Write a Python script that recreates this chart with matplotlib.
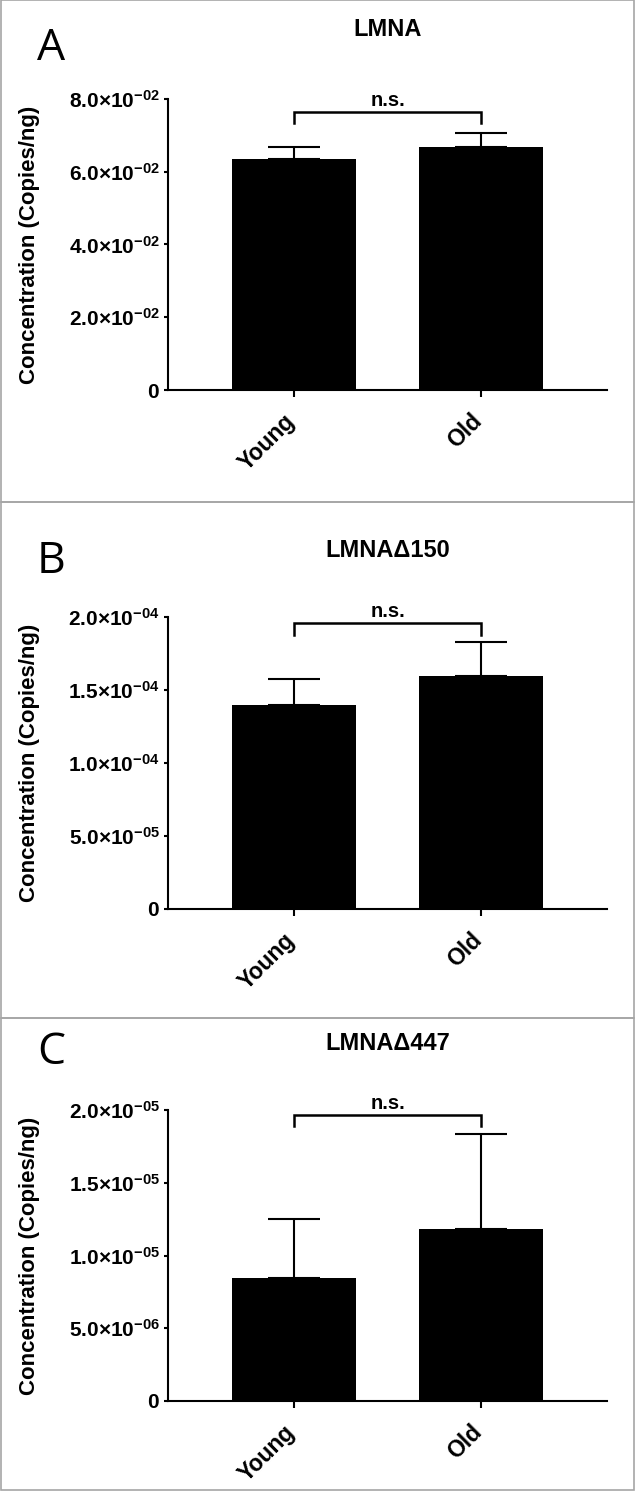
import matplotlib
matplotlib.use("Agg")
import matplotlib.pyplot as plt
from matplotlib.patches import Rectangle

plt.rcParams['mathtext.fontset'] = 'custom'
plt.rcParams['mathtext.rm'] = 'Liberation Sans'
plt.rcParams['mathtext.bf'] = 'Liberation Sans:bold'
plt.rcParams['font.family'] = ['Liberation Sans', 'DejaVu Sans']

# ---------------- data ----------------
groups = ['Young', 'Old']
panel_letters = ['A', 'B', 'C']
panel_titles = ['LMNA', 'LMNA\u0394150', 'LMNA\u0394447']

lmna_mean = [0.0634, 0.0667]
lmna_err = [0.0034, 0.0039]
d150_mean = [1.396e-4, 1.593e-4]
d150_err = [0.176e-4, 0.233e-4]
d447_mean = [8.42e-6, 1.183e-5]
d447_err = [4.06e-6, 6.50e-6]

lmna_ticks = [0, 0.02, 0.04, 0.06, 0.08]
lmna_ticklabels = ['0', '2.0\u00d710^{-02}', '4.0\u00d710^{-02}', '6.0\u00d710^{-02}', '8.0\u00d710^{-02}']
d150_ticks = [0, 5e-5, 1e-4, 1.5e-4, 2e-4]
d150_ticklabels = ['0', '5.0\u00d710^{-05}', '1.0\u00d710^{-04}', '1.5\u00d710^{-04}', '2.0\u00d710^{-04}']
d447_ticks = [0, 5e-6, 1e-5, 1.5e-5, 2e-5]
d447_ticklabels = ['0', '5.0\u00d710^{-06}', '1.0\u00d710^{-05}', '1.5\u00d710^{-05}', '2.0\u00d710^{-05}']

bracket_low = [0.0733, 1.88e-4, 1.89e-5]
bracket_top = [0.0763, 1.96e-4, 1.964e-5]
sig_label = 'n.s.'
ylabel = 'Concentration (Copies/ng)'

means = [lmna_mean, d150_mean, d447_mean]
errs = [lmna_err, d150_err, d447_err]
ticks = [lmna_ticks, d150_ticks, d447_ticks]
ticklabels = [lmna_ticklabels, d150_ticklabels, d447_ticklabels]

# ---------------- layout ----------------
W, H = 635, 1491
fig = plt.figure(figsize=(W / 100, H / 100), dpi=100)

def fx(px):
    return px / W

def fy(py):
    return 1 - py / H

axis_left, axis_right = 168, 607
axis_tops = [99, 617, 1110]
axis_bottoms = [390, 909, 1401]
panel_bounds = [(0, 502), (502, 1018), (1018, 1490)]
title_y = [30, 551, 1043]
letter_y = [49, 562, 1053]

for (t0, t1) in panel_bounds:
    fig.patches.append(Rectangle((fx(1), fy(t1)), fx(W - 2), (t1 - t0) / H,
                                 transform=fig.transFigure, fill=False,
                                 edgecolor='#a6a6a6', linewidth=1.2))

bold = dict(family='Liberation Sans', fontweight='bold')

for i in range(3):
    ax = fig.add_axes([fx(axis_left), fy(axis_bottoms[i]),
                       fx(axis_right - axis_left), (axis_bottoms[i] - axis_tops[i]) / H])
    x = list(range(len(groups)))
    ax.bar(x, means[i], width=0.663, color='black', zorder=2)
    ax.errorbar(x, means[i], yerr=[[0, 0], errs[i]], fmt='none', ecolor='black',
                elinewidth=1.5, capsize=19, capthick=1.5, zorder=1)
    ax.set_xlim(-0.674, 1.674)
    ax.set_ylim(0, ticks[i][-1])
    ax.set_yticks(ticks[i])
    ax.set_yticklabels([r'$\mathbf{%s}$' % s for s in ticklabels[i]], fontsize=15)
    ax.set_xticks(x)
    ax.set_xticklabels([])
    for xi, g in zip(x, groups):
        ax.annotate(g, xy=(xi, 0), xycoords=('data', 'axes fraction'),
                    xytext=(-8, -14), textcoords='offset points',
                    rotation=45, ha='right', va='top', rotation_mode='anchor',
                    fontsize=16.5, **bold)
    ax.spines['top'].set_visible(False)
    ax.spines['right'].set_visible(False)
    ax.spines['left'].set_linewidth(1.5)
    ax.spines['bottom'].set_linewidth(1.5)
    ax.tick_params(axis='y', length=3, width=1.5, pad=3)
    ax.tick_params(axis='x', length=5, width=1.5, pad=6)
    ax.set_ylabel(ylabel, fontsize=16, **bold)
    ax.yaxis.label.set_va('center')
    ax.yaxis.set_label_coords((30 - axis_left) / (axis_right - axis_left), 0.5)
    # significance bracket
    ax.plot([0, 0, 1, 1], [bracket_low[i], bracket_top[i], bracket_top[i], bracket_low[i]],
            color='black', linewidth=1.8, clip_on=False, solid_joinstyle='miter')
    ax.annotate(sig_label, (0.5, bracket_top[i]), xytext=(0, 1.5), textcoords='offset points',
                ha='center', va='bottom', fontsize=14.5, **bold)
    fig.text(fx((axis_left + axis_right) / 2), fy(title_y[i]), panel_titles[i],
             ha='center', va='center', fontsize=17, **bold)
    fig.text(fx(51), fy(letter_y[i]), panel_letters[i], ha='center', va='center',
             fontsize=32, family='Open Sans')

fig.savefig('out.png', dpi=100)
